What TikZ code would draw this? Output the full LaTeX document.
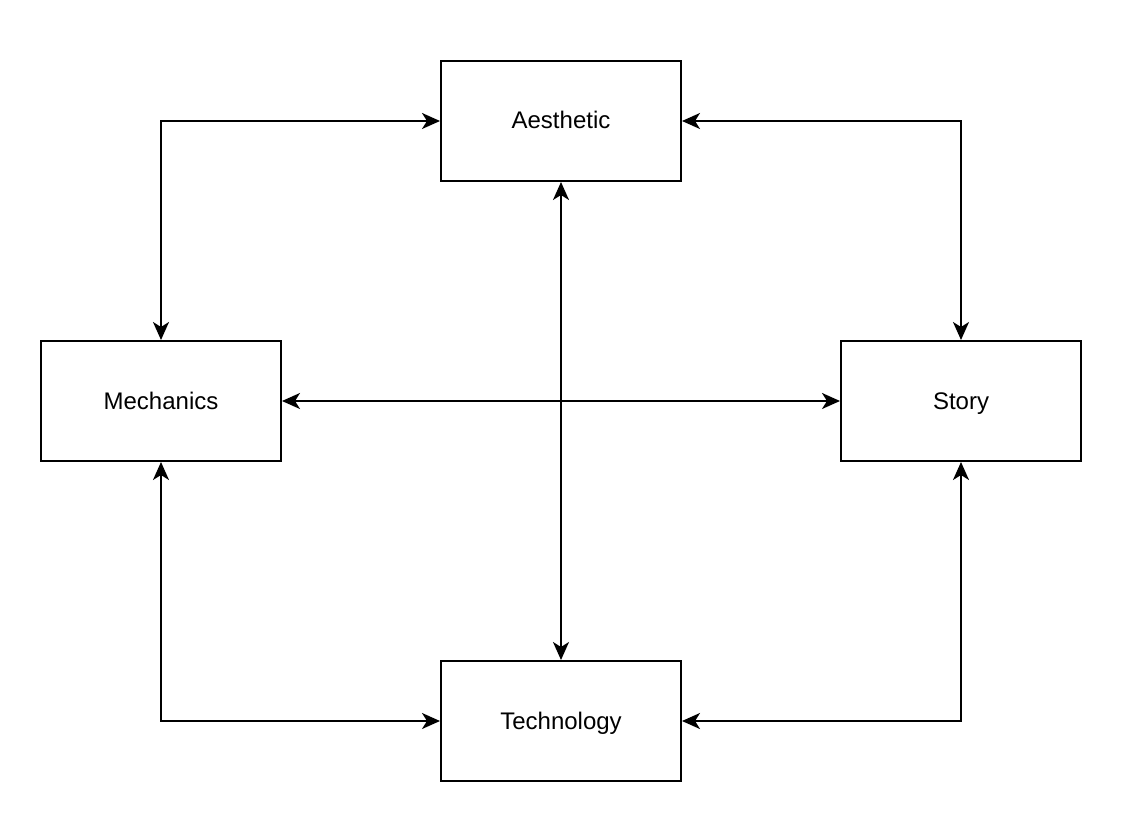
\documentclass[tikz,border=0pt]{standalone}
\usepackage{fontspec}
\setmainfont{Liberation Sans}
\usetikzlibrary{arrows.meta}
\begin{document}
\begin{tikzpicture}[x=1pt,y=-1pt,
  box/.style={draw,line width=2pt,minimum width=240pt,minimum height=120pt,inner sep=0pt,text height=17pt,text depth=1pt,font=\fontsize{24pt}{28pt}\selectfont},
  link/.style={line width=2pt,{Stealth[length=18pt,width=16pt,inset=5pt]}-{Stealth[length=18pt,width=16pt,inset=5pt]}}]
\useasboundingbox (0,0) rectangle (1122,824);
\node[box] (aes) at (561,121) {Aesthetic};
\node[box] (mech) at (161,401) {Mechanics};
\node[box] (story) at (961,401) {Story};
\node[box] (tech) at (561,721) {Technology};
\draw[link] (mech.north) |- (aes.west);
\draw[link] (aes.east) -| (story.north);
\draw[link] (mech.south) |- (tech.west);
\draw[link] (story.south) |- (tech.east);
\draw[link] (aes.south) -- (tech.north);
\draw[link] (mech.east) -- (story.west);
\end{tikzpicture}
\end{document}
